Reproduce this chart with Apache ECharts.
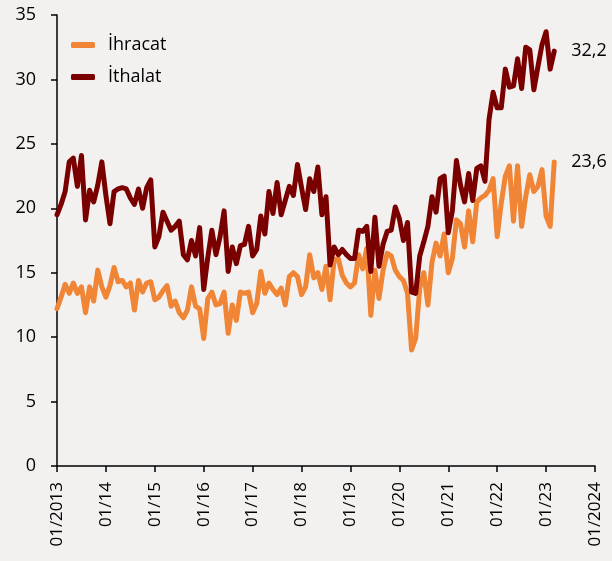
<!DOCTYPE html>
<html><head><meta charset="utf-8">
<script src="https://cdn.jsdelivr.net/npm/echarts@6/dist/echarts.min.js"></script>
<style>html,body{margin:0;padding:0;background:#f3f1f0;}#c{width:612px;height:561px;}</style>
</head><body><div id="c"></div>
<script>
// Monthly values, 01/2013 .. 03/2023 (billion USD)
var ihracat = [
12.2,13.1,14.1,13.4,14.2,13.4,13.9,11.9,13.9,12.8,15.2,13.9,
13.1,14.0,15.4,14.3,14.4,13.9,14.2,12.1,14.4,13.5,14.2,14.3,
12.9,13.1,13.6,14.0,12.4,12.8,11.9,11.5,12.1,13.9,12.4,12.2,
9.9,13.0,13.5,12.5,12.6,13.5,10.3,12.5,11.3,13.5,13.4,13.5,
11.9,12.6,15.1,13.4,14.2,13.7,13.3,13.8,12.5,14.7,15.0,14.7,
13.3,13.9,16.4,14.6,15.0,13.7,15.5,12.9,16.0,16.1,14.8,14.2,
13.9,14.2,16.4,15.3,16.9,11.7,15.2,13.0,15.2,16.5,16.3,15.2,
14.7,14.4,13.4,9.0,9.9,13.8,15.0,12.5,15.8,17.3,16.3,18.0,
15.0,16.1,19.1,18.8,17.0,19.8,17.4,20.5,20.8,21.0,21.4,22.3,
17.8,20.4,22.5,23.3,19.0,23.3,18.6,20.9,22.6,21.3,21.7,23.0,
19.4,18.6,23.6];
var ithalat = [
19.5,20.3,21.3,23.6,23.9,21.7,24.1,19.1,21.4,20.5,21.8,23.6,
21.0,18.8,21.3,21.5,21.6,21.5,20.8,20.3,21.5,20.0,21.6,22.2,
17.0,17.8,19.7,19.0,18.3,18.6,19.0,16.4,16.0,17.5,16.3,18.5,
13.7,16.2,18.3,16.4,17.8,19.8,15.1,17.0,15.7,17.1,17.2,18.6,
16.3,16.8,19.4,18.0,21.3,19.6,22.0,19.5,20.6,21.7,21.0,23.4,
21.6,19.9,22.3,21.3,23.2,19.5,20.9,15.6,17.0,16.4,16.8,16.4,
16.1,16.1,18.3,18.2,18.6,15.1,19.3,15.5,17.2,18.2,18.3,20.1,
19.2,17.5,18.9,13.5,13.4,16.3,17.4,18.6,20.9,19.7,22.3,22.5,
18.1,19.8,23.7,21.8,20.5,22.7,20.6,23.1,23.3,22.1,26.9,29.0,
27.8,27.8,30.8,29.4,29.5,31.6,29.3,32.5,32.3,29.2,31.0,32.7,
33.7,30.8,32.2];
var tickLabels = ['01/2013','01/14','01/15','01/16','01/17','01/18','01/19','01/20','01/21','01/22','01/23','01/2024'];
var seriesNames = ['İhracat','İthalat'];
var colors = ['#ef8535','#7a0000'];

var months = [];
for (var y = 0; y < tickLabels.length; y++) {
  for (var m = 1; m <= 12; m++) {
    if (y === tickLabels.length - 1 && m > 1) break;
    months.push((m < 10 ? '0' + m : '' + m) + '/' + (2013 + y));
  }
}
var font = 'Open Sans, Noto Sans, sans-serif';
var chart = echarts.init(document.getElementById('c'));
function mk(name, data, color) {
  return {
    name: name, type: 'line', data: data, symbol: 'none',
    lineStyle: { color: color, width: 5, cap: 'round', join: 'round' },
    itemStyle: { color: color },
    endLabel: { show: true, distance: 17, color: '#000', fontSize: 18, fontFamily: font,
      formatter: function (p) { return String(p.value).replace('.', ','); } },
    animation: false
  };
}
chart.setOption({
  backgroundColor: '#f3f1f0',
  animation: false,
  grid: { left: 57, right: 17, top: 15, bottom: 95, containLabel: false },
  legend: {
    orient: 'vertical', left: 66, top: 31, itemGap: 14, itemWidth: 24, itemHeight: 6,
    icon: 'roundRect',
    textStyle: { fontSize: 18, fontFamily: font, color: '#000', padding: [0, 0, 0, 8] },
    data: seriesNames
  },
  xAxis: {
    type: 'category', data: months, boundaryGap: false,
    axisLine: { lineStyle: { color: '#000', width: 1.5 } },
    axisTick: { show: true, interval: 11, length: 6, lineStyle: { color: '#000', width: 1.5 } },
    axisLabel: { interval: 11, rotate: 90, margin: 16, fontSize: 17, fontFamily: font, color: '#000',
      formatter: function (v, i) { return tickLabels[Math.round(i / 12)]; } },
    splitLine: { show: false }
  },
  yAxis: {
    type: 'value', min: 0, max: 35, interval: 5,
    axisLine: { show: true, lineStyle: { color: '#000', width: 1.5 } },
    axisTick: { show: true, length: 6, lineStyle: { color: '#000', width: 1.5 } },
    axisLabel: { fontSize: 18, fontFamily: font, color: '#000', margin: 21 },
    splitLine: { show: false }
  },
  series: [mk(seriesNames[0], ihracat, colors[0]), mk(seriesNames[1], ithalat, colors[1])]
});
</script></body></html>
